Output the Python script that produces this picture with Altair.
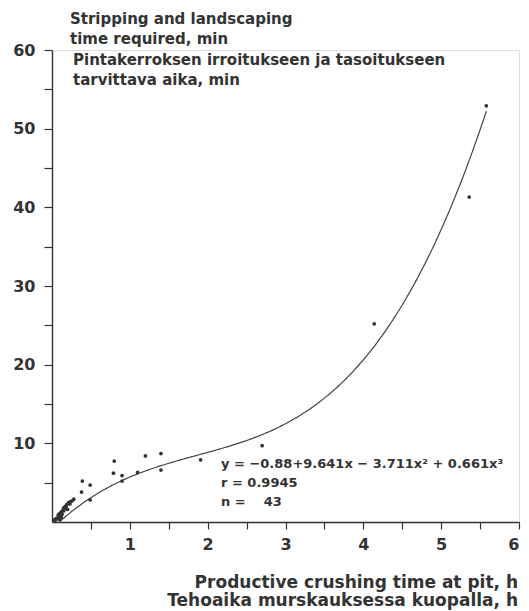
import altair as alt
import pandas as pd

# Observations: productive crushing time (h) vs stripping/landscaping time (min)
crush_h = [
    0.03, 0.04, 0.06, 0.07, 0.08, 0.09, 0.10, 0.10, 0.11, 0.12,
    0.12, 0.13, 0.14, 0.15, 0.15, 0.16, 0.17, 0.18, 0.19, 0.20,
    0.21, 0.22, 0.23, 0.24, 0.26, 0.28,
    0.38, 0.39, 0.49, 0.49, 0.79, 0.80, 0.90, 0.90, 1.10, 1.20,
    1.40, 1.40, 1.91, 2.70, 4.14, 5.36, 5.58,
]
strip_min = [
    0.3, 0.2, 0.5, 0.4, 0.9, 0.7, 0.3, 1.1, 0.8, 0.6,
    1.3, 1.0, 1.5, 1.4, 1.8, 1.7, 2.0, 1.9, 2.2, 1.6,
    2.4, 2.5, 2.3, 2.6, 2.7, 2.9,
    3.8, 5.2, 2.8, 4.7, 6.2, 7.75, 5.2, 5.9, 6.3, 8.4,
    8.7, 6.6, 7.9, 9.7, 25.2, 41.3, 52.9,
]

# Fitted cubic: y = b0 + b1 x + b2 x^2 + b3 x^3
coef = [-0.88, 9.641, -3.711, 0.661]
fit_range = [0.1, 5.58]

title_lines = [
    "Stripping and landscaping",
    "time required, min",
    "Pintakerroksen irroitukseen ja tasoitukseen",
    "tarvittava aika, min",
]
xtitle_lines = [
    "Productive crushing time at pit, h",
    "Tehoaika murskauksessa kuopalla, h",
]
stats_lines = [
    "y = \u22120.88+9.641x \u2212 3.711x\u00b2 + 0.661x\u00b3",
    "r = 0.9945",
    "n =\u00a0\u00a0\u00a0\u00a043",
]

INK = "#333333"
FONT = "DejaVu Sans"
W, H = 467, 472

pts = pd.DataFrame({"x": crush_h, "y": strip_min})

xs = alt.Scale(domain=[0, 6], nice=False, zero=True)
ys = alt.Scale(domain=[0, 60], nice=False, zero=True)

x_axis = alt.Axis(
    values=[i / 2 for i in range(1, 13)],
    format="~g",
    labelExpr="datum.value % 1 == 0 ? datum.label : ''",
    title=None, grid=False, domainColor=INK, domainWidth=1.4,
    tickColor=INK, tickWidth=1.2, tickSize=7, labelPadding=7,
    labelFont=FONT, labelFontSize=16, labelFontWeight="bold", labelColor=INK,
)
y_axis = alt.Axis(
    values=list(range(5, 61, 5)),
    format="~g",
    labelExpr="datum.value % 10 == 0 ? datum.label : ''",
    title=None, grid=False, domainColor=INK, domainWidth=1.4,
    tickColor=INK, tickWidth=1.2, tickSize=8, labelPadding=9,
    labelFont=FONT, labelFontSize=16, labelFontWeight="bold", labelColor=INK,
)

scatter = alt.Chart(pts).mark_circle(size=14, color=INK, opacity=1).encode(
    x=alt.X("x:Q", scale=xs, axis=x_axis),
    y=alt.Y("y:Q", scale=ys, axis=y_axis),
)

curve_expr = (
    f"{coef[0]} + {coef[1]}*datum.data + {coef[2]}*pow(datum.data,2)"
    f" + {coef[3]}*pow(datum.data,3)"
)
curve = (
    alt.Chart(alt.sequence(fit_range[0], fit_range[1] + 0.001, 0.02))
    .transform_calculate(fy=curve_expr)
    .mark_line(color="#444444", strokeWidth=1.2)
    .encode(x=alt.X("data:Q", scale=xs), y=alt.Y("fy:Q", scale=ys))
)


def text_block(lines, x, y0, dy, align="left", size=15, weight="bold"):
    df = pd.DataFrame({"t": lines, "i": list(range(len(lines)))})
    return (
        alt.Chart(df)
        .transform_calculate(py=f"{y0} + datum.i*{dy}")
        .mark_text(align=align, baseline="alphabetic", font=FONT,
                   fontSize=size, fontWeight=weight, color=INK)
        .encode(x=alt.value(x), y=alt.Y("py:Q", scale=None), text="t:N")
    )


ytitle = (
    text_block(title_lines[:2], 18, -26, 20)
    + text_block(title_lines[2:], 21, 15, 20)
)
xtitle = text_block(xtitle_lines, 466, 538, 18, align="right", size=17)
stats = text_block(stats_lines, 169, 418, 19, size=13)

chart = (
    alt.layer(curve, scatter, ytitle, xtitle, stats)
    .properties(
        width=W, height=H,
        padding={"left": 52, "top": 50, "right": 10, "bottom": 89},
        autosize=alt.AutoSizeParams(type="none"),
    )
    .configure_view(stroke=None)
    .configure(background="white")
)

chart.save("out.html", embed_options={"renderer": "svg", "actions": False})
